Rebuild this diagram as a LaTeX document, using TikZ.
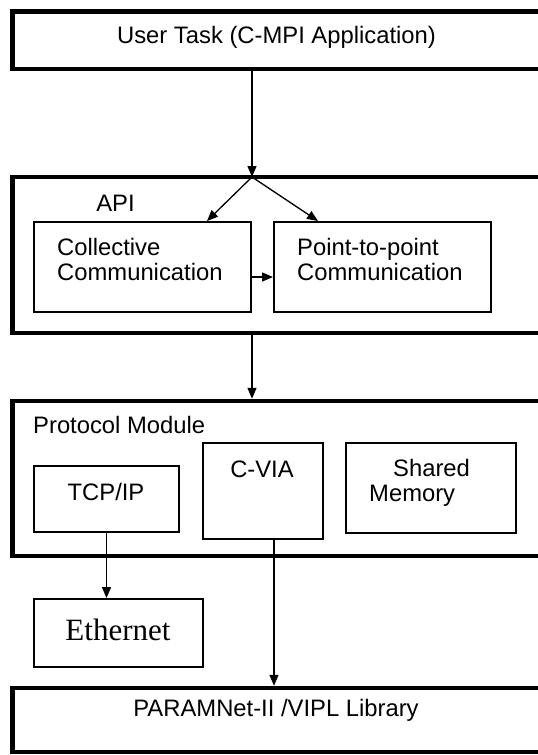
\documentclass[tikz,border=0pt]{standalone}
\usepackage{fontspec}
\setmainfont{Liberation Sans}
\newfontfamily\timesfont{Liberation Serif}
\usetikzlibrary{arrows.meta,calc}
\begin{document}
\begin{tikzpicture}[x=1pt,y=-1pt,
  bigbox/.style={draw,line width=4.5pt,inner sep=0pt},
  smallbox/.style={draw,line width=2pt,inner sep=0pt},
  txt/.style={inner sep=0pt,font=\fontsize{23.8}{24.5}\selectfont},
  serif/.style={inner sep=0pt,font=\timesfont\fontsize{31}{36}\selectfont},
  arr/.style={line width=1.3pt,-{Triangle[length=11pt,width=9pt]}}]
\useasboundingbox (0,0) rectangle (538,755);
\clip (0,0) rectangle (538,755);
% layer boxes
\node[bigbox,minimum width=537.5pt,minimum height=57.5pt] (user) at (281.25,40.25) {};
\node[bigbox,minimum width=537.5pt,minimum height=156pt] (api) at (281.25,255) {};
\node[bigbox,minimum width=537.5pt,minimum height=155pt] (proto) at (281.25,478.5) {};
\node[bigbox,minimum width=537.5pt,minimum height=64pt] (param) at (281.25,720) {};
% inner boxes
\node[smallbox,minimum width=217pt,minimum height=90pt] (coll) at (142.5,267) {};
\node[smallbox,minimum width=217pt,minimum height=90pt] (p2p) at (382.5,267) {};
\node[smallbox,minimum width=145pt,minimum height=66pt] (tcp) at (106.5,499) {};
\node[smallbox,minimum width=120pt,minimum height=96pt] (cvia) at (263,491) {};
\node[smallbox,minimum width=170pt,minimum height=90pt] (shm) at (431,488) {};
\node[smallbox,minimum width=169pt,minimum height=68pt] (eth) at (118.5,633) {};
% texts
\node[txt,anchor=base] (tuser) at (276.5,43) {User Task (C-MPI Application)};
\node[txt,anchor=base] (tapi) at (115.5,211) {API};
\node[txt,anchor=base west,align=left] (tcoll) at (57,280) {Collective\\Communication};
\node[txt,anchor=base west,align=left] (tp2p) at (297,280) {Point-to-point\\Communication};
\node[txt,anchor=base west] (tproto) at (33,433) {Protocol Module};
\node[txt,anchor=base] (ttcp) at (106,500) {TCP/IP};
\node[txt,anchor=base] (tcvia) at (262,477) {C-VIA};
\node[txt,anchor=base west,align=left] (tshm) at (369,501) {\hspace{24pt}Shared\\Memory};
\node[serif,anchor=base] (teth) at (118,640) {Ethernet};
\node[txt,anchor=base] (tparam) at (276,716) {PARAMNet-II /VIPL Library};
% connectors
\coordinate (fork) at (252,177);
\draw[arr] (user.south -| fork) -- (fork);
\draw[arr] (fork) -- ([xshift=64.5pt]coll.north);
\draw[arr] (fork) -- ([xshift=-64.5pt]p2p.north);
\draw[arr] ([yshift=-10pt]coll.east) -- ([yshift=-10pt]p2p.west);
\draw[arr] (api.south -| fork) -- (proto.north -| fork);
\draw[arr] (tcp.south) -- (tcp.south |- eth.north);
\draw[arr] ([xshift=11pt]cvia.south) -- ([xshift=11pt]cvia.south |- param.north);
\end{tikzpicture}
\end{document}
